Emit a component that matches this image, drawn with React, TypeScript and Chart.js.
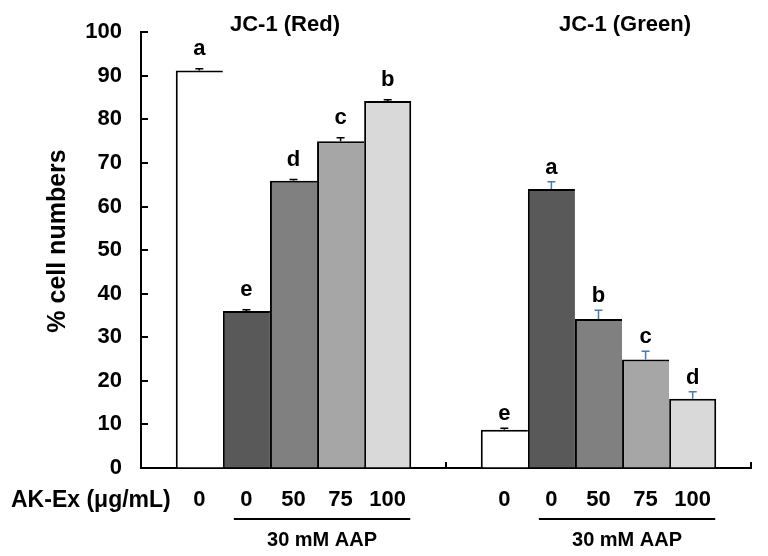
import React, { useEffect, useRef } from "react";
import { Chart, registerables } from "chart.js";

Chart.register(...registerables);

const panels = ["JC-1 (Red)", "JC-1 (Green)"];
const doseLabels = ["0", "0", "50", "75", "100"];
const redValues = [91.2, 36.0, 65.9, 75.0, 84.2];
const greenValues = [8.8, 64.0, 34.2, 24.9, 15.9];
const redErrors = [0.4, 0.3, 0.3, 0.8, 0.3];
const greenErrors = [0.3, 1.7, 2.0, 1.9, 1.6];
const redLetters = ["a", "e", "d", "c", "b"];
const greenLetters = ["e", "a", "b", "c", "d"];
const barColors = ["#ffffff", "#595959", "#808080", "#a6a6a6", "#d9d9d9"];
const redErrorColors = ["#000000", "#000000", "#000000", "#000000", "#000000"];
const greenErrorColors = ["#000000", "#4a78b0", "#4a78b0", "#4a78b0", "#4a78b0"];
const yTitle = "% cell numbers";
const xRowTitle = "AK-Ex (μg/mL)";
const groupNote = "30 mM AAP";

const FONT = "'Liberation Sans', Arial, sans-serif";

const annotatePlugin = {
  id: "annotate",
  afterDraw(chart: any) {
    const ctx = chart.ctx;
    const xs = chart.scales.x;
    const ys = chart.scales.y;
    const area = chart.chartArea;
    const allValues = [redValues, greenValues];
    const allErrors = [redErrors, greenErrors];
    const allLetters = [redLetters, greenLetters];
    const allErrColors = [redErrorColors, greenErrorColors];
    ctx.save();
    // inward y ticks
    ctx.strokeStyle = "#000";
    ctx.lineWidth = 2;
    ys.ticks.forEach((t: any) => {
      const y = Math.round(ys.getPixelForValue(t.value));
      ctx.beginPath();
      ctx.moveTo(area.left, y);
      ctx.lineTo(area.left + 7, y);
      ctx.stroke();
    });
    // x boundary ticks pointing up
    const p0 = xs.getPixelForValue(0);
    const p1 = xs.getPixelForValue(1);
    const half = (p1 - p0) / 2;
    [p0 + half, p1 + half].forEach((x) => {
      ctx.beginPath();
      ctx.moveTo(x, area.bottom);
      ctx.lineTo(x, area.bottom - 6);
      ctx.stroke();
    });

    // error bars and letters
    for (let d = 0; d < chart.data.datasets.length; d++) {
      const meta = chart.getDatasetMeta(d);
      meta.data.forEach((bar: any, g: number) => {
        const v = allValues[g][d];
        const e = allErrors[g][d];
        const yTop = ys.getPixelForValue(v + e);
        const yBar = ys.getPixelForValue(v);
        ctx.strokeStyle = allErrColors[g][d];
        ctx.lineWidth = 1.5;
        ctx.beginPath();
        ctx.moveTo(bar.x, yBar);
        ctx.lineTo(bar.x, yTop);
        ctx.moveTo(bar.x - 4, yTop);
        ctx.lineTo(bar.x + 4, yTop);
        ctx.stroke();
        ctx.fillStyle = "#000";
        ctx.font = `bold 22px ${FONT}`;
        ctx.textAlign = "center";
        ctx.textBaseline = "alphabetic";
        ctx.fillText(allLetters[g][d], bar.x, yTop - (g === 0 ? 14 : 8));
        // dose label under bar
        ctx.fillText(doseLabels[d], bar.x, 506);
      });
    }

    // panel titles
    ctx.font = `bold 22px ${FONT}`;
    ctx.textAlign = "center";
    ctx.textBaseline = "middle";
    ctx.fillText(panels[0], 285, 25);
    ctx.fillText(panels[1], 625, 25);

    // row title
    ctx.font = `bold 23px ${FONT}`;
    ctx.textAlign = "left";
    ctx.textBaseline = "alphabetic";
    ctx.fillText(xRowTitle, 11, 507);

    // group lines and notes
    for (let g = 0; g < 2; g++) {
      const first = chart.getDatasetMeta(1).data[g];
      const last = chart.getDatasetMeta(4).data[g];
      const x1 = first.x - first.width / 2 + 11;
      const x2 = last.x + last.width / 2 - 1;
      ctx.strokeStyle = "#000";
      ctx.lineWidth = 2;
      ctx.beginPath();
      ctx.moveTo(x1, 519);
      ctx.lineTo(x2, 519);
      ctx.stroke();
      ctx.font = `bold 20px ${FONT}`;
      ctx.textAlign = "center";
      ctx.textBaseline = "middle";
      ctx.fillText(groupNote, (x1 + x2) / 2, 540);
    }

    // y title
    ctx.save();
    ctx.translate(58, 241);
    ctx.rotate(-Math.PI / 2);
    ctx.font = `bold 25px ${FONT}`;
    ctx.textAlign = "center";
    ctx.textBaseline = "middle";
    ctx.fillText(yTitle, 0, 0);
    ctx.restore();

    ctx.restore();
  },
};

export default function App() {
  const ref = useRef<HTMLCanvasElement | null>(null);
  useEffect(() => {
    if (!ref.current) return;
    const datasets = doseLabels.map((lab, i) => ({
      label: lab,
      data: [redValues[i], greenValues[i]],
      backgroundColor: barColors[i],
      borderColor: "#000000",
      borderWidth: { top: 2, left: 2, right: i === doseLabels.length - 1 ? 2 : 0, bottom: 0 },
      borderSkipped: false,
      barPercentage: 1,
      categoryPercentage: 0.772,
    }));
    const chart = new Chart(ref.current, {
      type: "bar",
      data: { labels: panels, datasets },
      options: {
        animation: false,
        responsive: false,
        events: [],
        layout: { padding: { top: 19, right: 17, left: 0, bottom: 0 } },
        plugins: {
          legend: { display: false },
          tooltip: { enabled: false },
          title: { display: false },
        },
        scales: {
          x: {
            ticks: { display: false },
            grid: { display: true, drawOnChartArea: false, drawTicks: false, offset: true },
            border: { display: true, color: "#000", width: 2 },
            afterFit: (s: any) => {
              s.height = 88;
            },
          },
          y: {
            min: 0,
            max: 100,
            ticks: {
              stepSize: 10,
              color: "#000",
              padding: 19,
              font: { family: FONT, size: 22, weight: "bold" },
            },
            grid: { display: true, drawOnChartArea: false, drawTicks: false },
            border: { display: true, color: "#000", width: 2 },
            afterFit: (s: any) => {
              s.width = 141;
            },
          },
        },
      },
      plugins: [annotatePlugin],
    } as any);
    return () => chart.destroy();
  }, []);
  return (
    <div style={{ position: "absolute", left: 0, top: 0, width: 768, height: 556, background: "#fff" }}>
      <canvas ref={ref} width={768} height={556} style={{ display: "block" }} />
    </div>
  );
}
